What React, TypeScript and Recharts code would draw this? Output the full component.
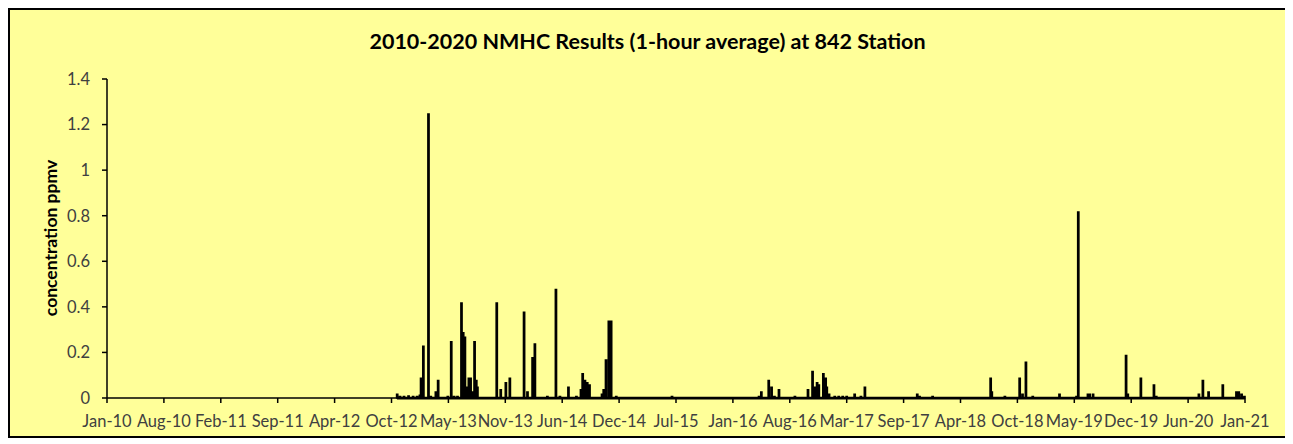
import React from 'react';
import { LineChart, Line, XAxis, YAxis } from 'recharts';

// x positions are in axis-tick units (0 = Jan-10, 20 = Jan-21)
const tickLabels = [
  'Jan-10', 'Aug-10', 'Feb-11', 'Sep-11', 'Apr-12', 'Oct-12', 'May-13', 'Nov-13', 'Jun-14', 'Dec-14',
  'Jul-15', 'Jan-16', 'Aug-16', 'Mar-17', 'Sep-17', 'Apr-18', 'Oct-18', 'May-19', 'Dec-19', 'Jun-20', 'Jan-21',
];
const yTicks = [0, 0.2, 0.4, 0.6, 0.8, 1, 1.2, 1.4];

// peak readings [position, ppmv]
const readings2012_2014: [number, number][] = [
  [5.10, 0.02], [5.15, 0.01], [5.22, 0.01], [5.30, 0.012], [5.38, 0.01], [5.45, 0.01], [5.50, 0.015],
  [5.52, 0.09], [5.56, 0.23], [5.65, 1.25], [5.69, 0.01], [5.78, 0.03], [5.82, 0.08],
  [5.99, 0.01], [6.05, 0.25], [6.10, 0.01], [6.16, 0.01], [6.23, 0.42], [6.26, 0.29], [6.29, 0.27],
  [6.32, 0.05], [6.36, 0.09], [6.39, 0.09], [6.42, 0.03], [6.46, 0.25], [6.49, 0.08], [6.51, 0.05],
  [6.85, 0.42], [6.92, 0.04], [7.01, 0.07], [7.08, 0.09],
  [7.33, 0.38], [7.39, 0.03], [7.48, 0.18], [7.52, 0.24],
  [7.74, 0.01], [7.89, 0.48], [7.96, 0.01], [8.11, 0.05], [8.25, 0.01], [8.33, 0.04], [8.36, 0.11],
  [8.40, 0.08], [8.44, 0.07], [8.48, 0.06],
  [8.70, 0.02], [8.73, 0.04], [8.77, 0.17], [8.82, 0.34], [8.84, 0.34], [8.86, 0.34], [8.95, 0.01],
];
const readings2015_2017: [number, number][] = [
  [9.93, 0.01],
  [11.46, 0.01], [11.50, 0.03], [11.63, 0.08], [11.68, 0.05], [11.73, 0.01], [11.81, 0.04],
  [12.09, 0.01], [12.32, 0.04], [12.40, 0.12], [12.44, 0.05], [12.48, 0.07], [12.51, 0.06],
  [12.59, 0.11], [12.63, 0.09], [12.65, 0.05], [12.69, 0.02],
  [12.79, 0.01], [12.86, 0.01], [12.93, 0.01], [13.00, 0.01], [13.14, 0.02], [13.25, 0.01], [13.32, 0.05],
];
const readings2018_2020: [number, number][] = [
  [14.24, 0.02], [14.28, 0.01], [14.51, 0.01],
  [15.53, 0.09], [15.55, 0.03], [15.78, 0.01],
  [16.04, 0.09], [16.09, 0.02], [16.15, 0.16], [16.27, 0.01],
  [16.74, 0.02], [17.04, 0.01], [17.07, 0.82], [17.24, 0.02], [17.27, 0.02], [17.33, 0.02],
  [17.91, 0.19], [17.94, 0.02], [18.17, 0.09], [18.40, 0.06], [18.44, 0.01],
  [19.19, 0.02], [19.26, 0.08], [19.36, 0.03], [19.61, 0.06], [19.85, 0.03], [19.89, 0.03],
  [19.94, 0.02], [19.99, 0.01],
];

const font = 'Lato, "Open Sans", sans-serif';

const App = () => {
  // each reading becomes a vertical stroke up from the baseline and back
  const lineData: { x: number; y: number }[] = [];
  [...readings2012_2014, ...readings2015_2017, ...readings2018_2020].forEach(([x, v]) => {
    lineData.push({ x, y: 0 }, { x, y: v }, { x, y: 0 });
  });

  return (
    <div
      style={{
        position: 'relative',
        width: 1275,
        height: 426,
        background: '#FFFF99',
        border: '2px solid #000',
        fontFamily: font,
      }}
    >
      <div
        style={{
          position: 'absolute',
          top: 18,
          left: 0,
          width: '100%',
          textAlign: 'center',
          fontWeight: 'bold',
          fontSize: 21.5,
          color: '#000',
        }}
      >
        2010-2020 NMHC Results (1-hour average) at 842 Station
      </div>
      <div
        style={{
          position: 'absolute',
          left: 40,
          top: 228,
          transform: 'translate(-50%, -50%) rotate(-90deg)',
          whiteSpace: 'nowrap',
          fontWeight: 'bold',
          fontSize: 17.5,
          color: '#000',
        }}
      >
        concentration ppmv
      </div>
      <LineChart width={1275} height={426} data={lineData} margin={{ top: 69, right: 40, bottom: 0, left: 0 }}>
        <XAxis
          dataKey="x"
          type="number"
          domain={[0, 20]}
          ticks={tickLabels.map((_, i) => i)}
          interval={0}
          tickFormatter={(i: number) => tickLabels[i]}
          height={38}
          tickSize={5}
          tickMargin={12}
          axisLine={{ stroke: '#000', strokeWidth: 1.5 }}
          tickLine={{ stroke: '#000', strokeWidth: 1.5 }}
          tick={{ fill: '#404040', fontSize: 16.5, fontFamily: font }}
        />
        <YAxis
          type="number"
          domain={[0, 1.4]}
          ticks={yTicks}
          width={97}
          tickSize={5}
          tickMargin={12}
          axisLine={{ stroke: '#000', strokeWidth: 1.5 }}
          tickLine={{ stroke: '#000', strokeWidth: 1.5 }}
          tick={{ fill: '#404040', fontSize: 16.5, fontFamily: font }}
        />
        <Line
          type="linear"
          dataKey="y"
          stroke="#000"
          strokeWidth={2.75}
          strokeLinejoin="bevel"
          dot={false}
          isAnimationActive={false}
        />
      </LineChart>
    </div>
  );
};

export default App;
